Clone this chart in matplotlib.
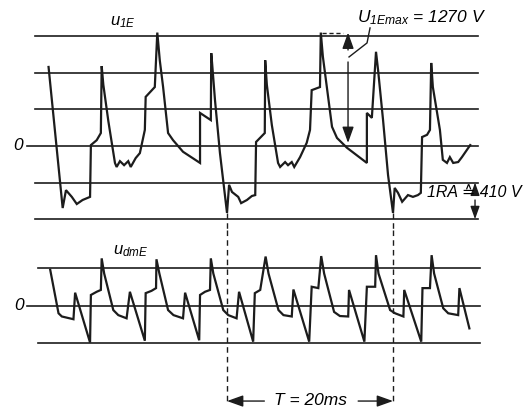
"""
Scope sketch: inverter output voltage u1E (top) and the differential-mode part udmE (bottom),
one period T = 20 ms marked between the two deep minima of u1E.
"""
import matplotlib
matplotlib.use("Agg")
import matplotlib.pyplot as plt

# ---- data (time in ms, voltage in V) ----
u1e_t = [-21.5, -19.8, -19.4, -18.7, -18.1, -17.4, -16.5, -16.4, -15.7, -15.2, -15.1, -14.9,
         -14.3, -13.5, -13.3, -12.9, -12.4, -11.9, -11.6, -11.0, -10.5, -9.9, -9.8, -8.7,
         -8.4, -8.1, -7.7, -7.1, -6.5, -5.3, -3.25, -3.25, -1.95, -1.9, -1.8, -1.45,
         -0.85, 0.0, 0.25, 0.6, 1.35, 1.7, 2.4, 3.0, 3.4, 3.5, 4.55, 4.6,
         4.8, 5.4, 6.15, 6.4, 7.0, 7.35, 7.8, 8.1, 8.8, 9.6, 10.0, 10.2,
         11.2, 11.3, 11.55, 12.65, 13.25, 14.45, 16.85, 16.85, 17.45, 17.95, 18.2, 18.8,
         19.4, 20.0, 20.2, 20.6, 21.1, 21.8, 22.4, 23.0, 23.35, 23.5, 24.1, 24.45,
         24.6, 24.8, 25.65, 26.0, 26.5, 26.85, 27.25, 27.85, 28.3, 29.3]
u1e_v = [885, -695, -495, -570, -650, -605, -570, 10, 65, 145, 895, 685,
         280, -190, -235, -170, -215, -170, -235, -135, -80, 180, 550, 660,
         1270, 960, 660, 145, 65, -65, -190, 370, 290, 1040, 930, 515,
         -80, -750, -435, -515, -570, -640, -605, -560, -550, 45, 145, 960,
         685, 235, -190, -235, -180, -215, -180, -235, -125, 35, 180, 625,
         660, 1270, 1000, 215, 90, -20, -190, 370, 315, 1055, 850, 290,
         -325, -750, -470, -525, -625, -550, -570, -550, -525, 100, 125, 180,
         930, 660, 180, -155, -190, -125, -190, -180, -125, 10]

udme_t = [-21.3, -20.3, -19.9, -18.5, -18.3, -16.5, -16.4, -15.7, -15.2, -15.1, -14.8, -13.7,
          -13.1, -12.1, -11.7, -9.9, -9.8, -9.1, -8.55, -8.5, -8.15, -7.1, -6.45, -5.3,
          -5.05, -3.35, -3.25, -2.65, -2.05, -1.95, -1.65, -0.45, 0.15, 1.15, 1.45, 3.15,
          3.35, 4.0, 4.65, 5.0, 6.2, 6.8, 7.8, 8.0, 9.9, 10.2, 11.0, 11.35,
          11.7, 12.9, 13.6, 14.6, 14.7, 16.55, 16.85, 17.85, 17.95, 18.25, 19.65, 20.25,
          21.25, 21.35, 23.4, 23.55, 24.45, 24.65, 24.95, 26.05, 26.65, 27.85, 28.0, 29.2]
udme_v = [390, -85, -120, -150, 140, -405, 115, 150, 170, 515, 350, -50,
          -105, -140, 150, -385, 135, 160, 190, 505, 350, -50, -105, -140,
          140, -380, 115, 150, 170, 515, 350, -50, -105, -140, 150, -395,
          135, 170, 535, 350, -50, -105, -120, 175, -395, 205, 190, 540,
          350, -70, -115, -120, 170, -395, 205, 205, 550, 350, -50, -85,
          -120, 170, -395, 190, 190, 550, 350, -30, -85, -105, 190, -250]

raster = 410                      # 1 RA = 410 V
top_levels = [-2, -1, 0, 1, 2, 3]
bot_levels = [-1, 0, 1]
period_ms = 20
u1e_max = 1270

ink = "#1c1c1c"
plt.rcParams.update({
    "font.family": ["Liberation Sans", "DejaVu Sans"],
    "font.style": "italic",
    "mathtext.fontset": "custom",
    "mathtext.rm": "Liberation Sans:italic",
    "mathtext.it": "Liberation Sans:italic",
})

fig = plt.figure(figsize=(5.23, 4.07), dpi=100)
ax = fig.add_axes([0, 0.4349, 1, 0.5651])
axb = fig.add_axes([0, 0, 1, 0.4349])
for a in (ax, axb):
    a.set_xlim(-27.35, 35.66)
    a.axis("off")
ax.set_ylim(-941, 1635)
axb.set_ylim(-1109, 825)

# raster lines
for k in top_levels:
    ax.plot([-24.1 if k == 0 else -23.1, 30.25], [k * raster] * 2, color=ink, lw=1.2)
for k in bot_levels:
    axb.plot([-24.1 if k == 0 else -22.8, 30.5], [k * raster] * 2, color=ink, lw=1.2)
ax.text(-25.2, 0, "0", ha="center", va="center", fontsize=12.5)
axb.text(-25.0, 0, "0", ha="center", va="center", fontsize=12.5)

# traces
ax.plot(u1e_t, u1e_v, color=ink, lw=1.6, solid_joinstyle="miter")
axb.plot(udme_t, udme_v, color=ink, lw=1.6, solid_joinstyle="miter")
ax.text(-12.5, 1390, r"$u_{\mathrm{1E}}$", ha="center", va="center", fontsize=12)
axb.text(-11.6, 590, r"$u_{\mathrm{dmE}}$", ha="center", va="center", fontsize=12)

# period markers
dash = (0, (4, 3))
for x in (0, period_ms):
    ax.plot([x, x], [-750, -941], color=ink, lw=1.0, ls=dash)
    axb.plot([x, x], [825, -1044], color=ink, lw=1.0, ls=dash)
head = dict(arrowstyle="-|>,head_length=0.7,head_width=0.25", color=ink, lw=1.0,
            shrinkA=0, shrinkB=0, mutation_scale=14)
axb.annotate("", xy=(0, -1044), xytext=(4.5, -1044), arrowprops=head)
axb.annotate("", xy=(period_ms, -1044), xytext=(15.8, -1044), arrowprops=head)
axb.text(10.0, -1040, f"T = {period_ms}ms", ha="center", va="center", fontsize=12.5)

# U1Emax annotation
ax.plot([11.4, 14.0], [u1e_max, u1e_max], color=ink, lw=1.0, ls=(0, (3, 2)))
ax.annotate("", xy=(14.58, u1e_max), xytext=(14.58, 1075), arrowprops=head)
ax.annotate("", xy=(14.58, 34), xytext=(14.58, 941), arrowprops=head)
ax.plot([14.7, 16.87, 17.23], [997, 1154, 1322], color=ink, lw=1.0)
ax.text(15.66, 1434, r"$U_{\mathrm{1Emax}}$ = " + f"{u1e_max} V", ha="left", va="center",
        fontsize=12.5)

# raster annotation
small = dict(head, mutation_scale=11)
ax.annotate("", xy=(29.88, -raster), xytext=(29.88, -549), arrowprops=small)
ax.annotate("", xy=(29.88, -2 * raster), xytext=(29.88, -605), arrowprops=small)
ax.text(24.1, -526, f"1RA ≙ {raster} V", ha="left", va="center", fontsize=11.5)

fig.savefig("out.png", dpi=100, facecolor="white")
